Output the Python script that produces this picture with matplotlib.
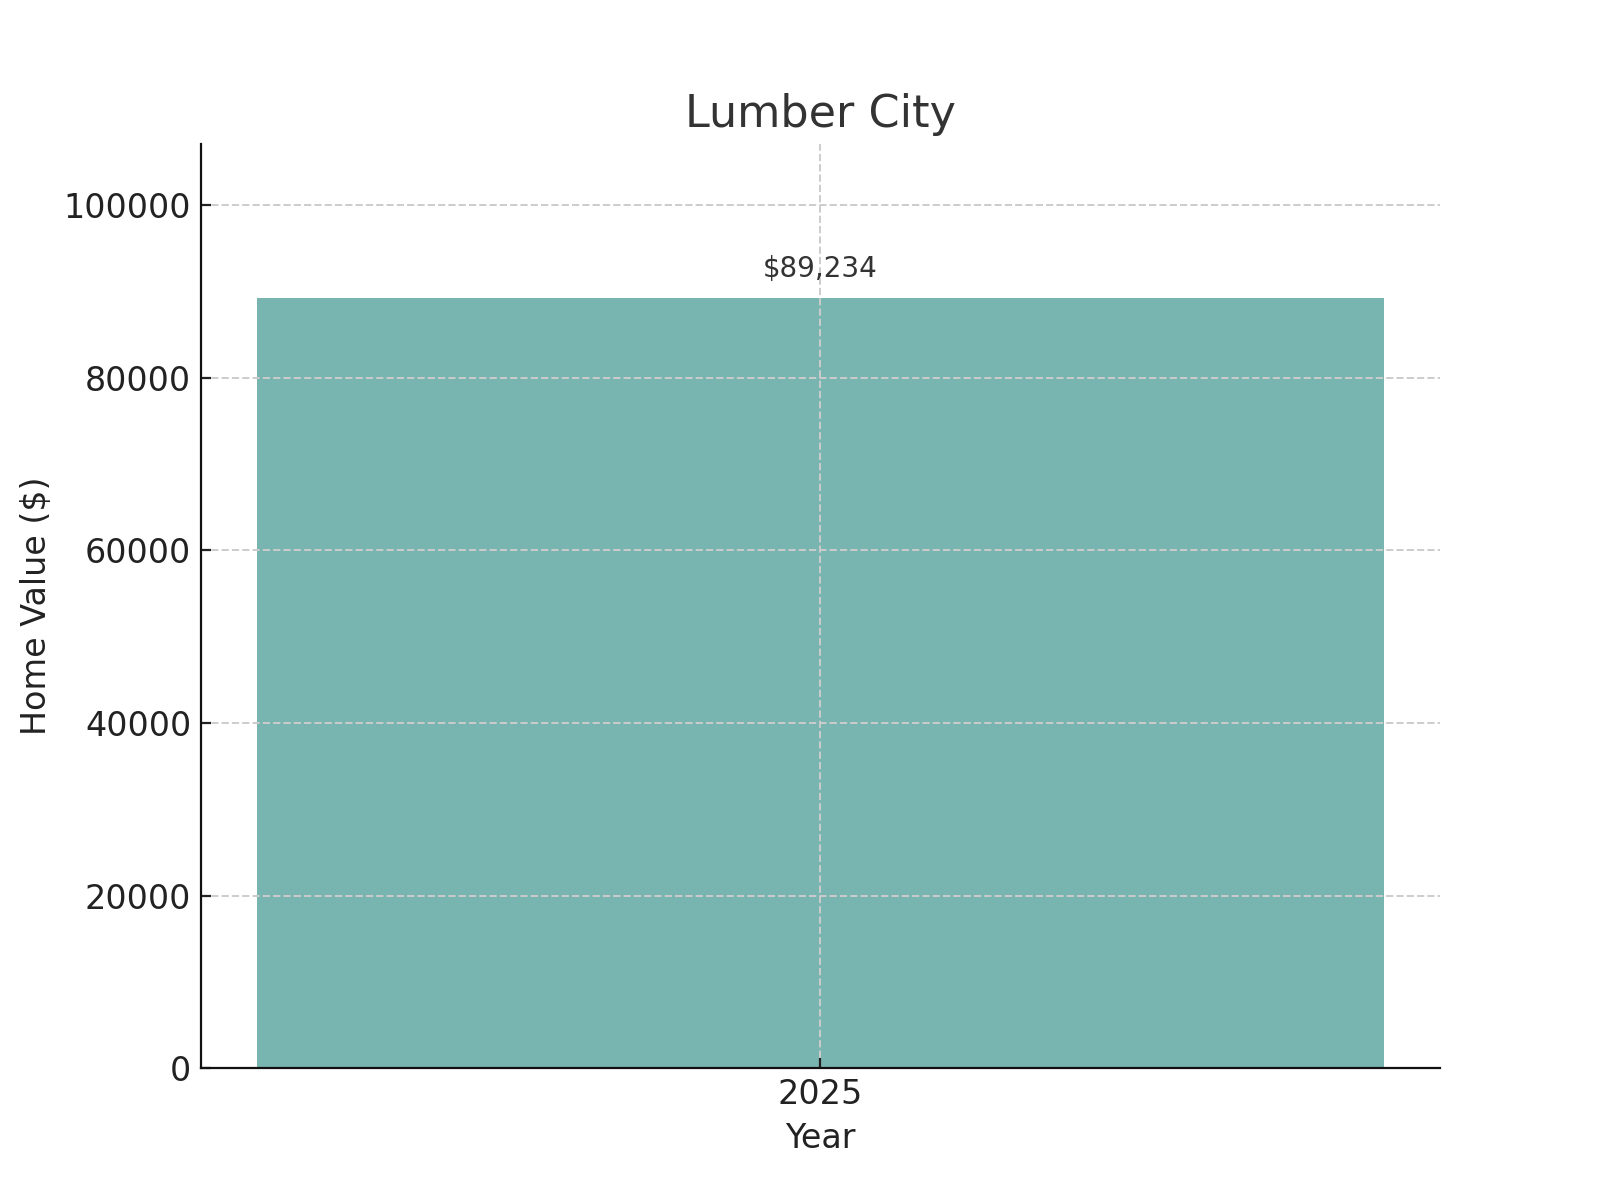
import matplotlib.pyplot as plt

# Data
years = ['2025']
home_values = [89234]
title = 'Lumber City'

fig, ax = plt.subplots(figsize=(8, 6), dpi=200)
fig.subplots_adjust(left=0.1256, right=0.900, top=0.880, bottom=0.1097)

bars = ax.bar(years, home_values, color='#79b5b0', width=0.8, zorder=1)
for bar, val in zip(bars, home_values):
    ax.text(bar.get_x() + bar.get_width() / 2, val + max(home_values) * 0.02,
            f'${val:,}', ha='center', va='bottom', fontsize=10, color='#333333')

ax.set_ylim(0, max(home_values) * 1.2)
ax.set_title(title, fontsize=16, color='#333333')
ax.set_xlabel('Year', fontsize=12, color='#222222')
ax.set_ylabel('Home Value ($)', fontsize=12, color='#222222')
ax.tick_params(labelsize=12, colors='#222222', direction='in')
ax.spines['top'].set_visible(False)
ax.spines['right'].set_visible(False)
for side in ['left', 'bottom']:
    ax.spines[side].set_zorder(5)
    ax.spines[side].set_color('#111111')
ax.grid(True, linestyle='--', color='#cccccc', linewidth=0.7, zorder=2)
ax.set_axisbelow(False)

plt.savefig('out.png', dpi=200)
